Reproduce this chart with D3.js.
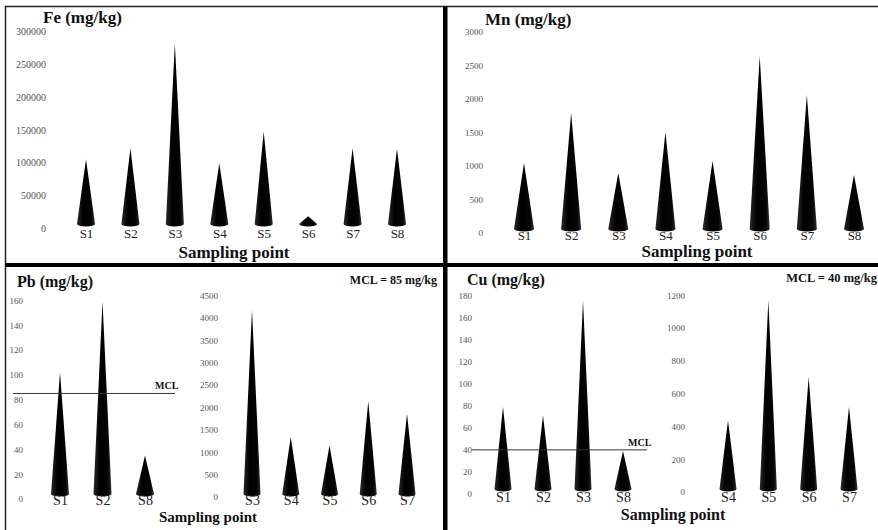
<!DOCTYPE html>
<html>
<head>
<meta charset="utf-8">
<script src="https://cdn.jsdelivr.net/npm/d3@7"></script>
<style>
  body { margin: 0; background: #fff; }
  svg text { font-family: "Liberation Serif", "DejaVu Serif", serif; }
</style>
</head>
<body>
<script>
// ---- data ----
var feSites = ["S1", "S2", "S3", "S4", "S5", "S6", "S7", "S8"];
var feValues = [105000, 122000, 282000, 99000, 147000, 18000, 122000, 121000];
var feTicks = [0, 50000, 100000, 150000, 200000, 250000, 300000];

var mnSites = ["S1", "S2", "S3", "S4", "S5", "S6", "S7", "S8"];
var mnValues = [1045, 1790, 896, 1507, 1075, 2640, 2060, 866];
var mnTicks = [0, 500, 1000, 1500, 2000, 2500, 3000];

var pbLowSites = ["S1", "S2", "S8"];
var pbLowValues = [102, 159, 35];
var pbLowTicks = [0, 20, 40, 60, 80, 100, 120, 140, 160];
var pbHighSites = ["S3", "S4", "S5", "S6", "S7"];
var pbHighValues = [4170, 1340, 1150, 2135, 1860];
var pbHighTicks = [0, 500, 1000, 1500, 2000, 2500, 3000, 3500, 4000, 4500];
var pbMcl = 85;

var cuLowSites = ["S1", "S2", "S3", "S8"];
var cuLowValues = [79, 71, 175, 39];
var cuLowTicks = [0, 20, 40, 60, 80, 100, 120, 140, 160, 180];
var cuHighSites = ["S4", "S5", "S6", "S7"];
var cuHighValues = [437, 1170, 702, 519];
var cuHighTicks = [0, 200, 400, 600, 800, 1000, 1200];
var cuMcl = 40;

var width = 878, height = 530;
var serif = "'Liberation Serif', 'DejaVu Serif', serif";

var svg = d3.select("body").append("svg")
    .attr("width", width)
    .attr("height", height)
    .style("font-family", serif);

// subtle shading on the cones
var grad = svg.append("defs").append("linearGradient")
    .attr("id", "coneFill")
    .attr("x1", "0%").attr("x2", "100%");
grad.append("stop").attr("offset", "0%").attr("stop-color", "#2a2a2a");
grad.append("stop").attr("offset", "35%").attr("stop-color", "#000");
grad.append("stop").attr("offset", "80%").attr("stop-color", "#050505");
grad.append("stop").attr("offset", "100%").attr("stop-color", "#333");

// draws one set of cones with its own y axis
function drawCones(o) {
  var g = svg.append("g");
  var y = d3.scaleLinear().domain([0, o.max]).range(o.yRange);
  var x = d3.scalePoint().domain(o.sites).range(o.xRange);

  var yAxis = d3.axisLeft(y)
      .tickValues(o.ticks)
      .tickSize(0)
      .tickPadding(0)
      .tickFormat(d3.format("d"));
  var ya = g.append("g")
      .attr("transform", "translate(" + o.axisX + ",0)")
      .call(yAxis)
      .attr("font-family", serif);
  ya.select(".domain").remove();
  ya.selectAll("text")
      .attr("fill", "#555")
      .style("font-size", o.tickSize + "px")
      .style("font-family", serif);

  var half = o.coneW / 2;
  var baseY = y(0) - o.baseOff;
  g.selectAll(".cone")
    .data(o.values)
    .enter().append("path")
      .attr("class", "cone")
      .attr("fill", "url(#coneFill)")
      .attr("d", function(d, i) {
        var cx = x(o.sites[i]);
        return "M" + (cx - half) + "," + baseY +
               "L" + cx + "," + y(d) +
               "L" + (cx + half) + "," + baseY +
               "A" + half + ",2.5 0 0 1 " + (cx - half) + "," + baseY + "Z";
      });

  var xAxis = d3.axisBottom(x).tickSize(0).tickPadding(0);
  var xa = g.append("g")
      .attr("transform", "translate(0," + o.labelTop + ")")
      .call(xAxis)
      .attr("font-family", serif);
  xa.select(".domain").remove();
  xa.selectAll("text")
      .attr("fill", "#222")
      .style("font-size", o.labelSize + "px")
      .style("font-family", serif);

  return y;
}

function label(txt, x, y, size, anchor, bold) {
  svg.append("text")
      .attr("x", x).attr("y", y)
      .attr("text-anchor", anchor || "start")
      .attr("font-weight", bold === false ? "normal" : "bold")
      .attr("font-size", size)
      .attr("fill", "#111")
      .style("font-family", serif)
      .text(txt);
}

/* ---------- Fe ---------- */
drawCones({ sites: feSites, values: feValues, ticks: feTicks, max: 300000,
  yRange: [228, 31.7], xRange: [86, 397], axisX: 46, baseOff: 4,
  coneW: 18, tickSize: 10, labelTop: 229, labelSize: 13 });
label("Fe (mg/kg)", 43, 23, 17);
label("Sampling point", 234, 258, 17, "middle");

/* ---------- Mn ---------- */
drawCones({ sites: mnSites, values: mnValues, ticks: mnTicks, max: 3000,
  yRange: [233, 32], xRange: [524, 854], axisX: 483, baseOff: 4,
  coneW: 20, tickSize: 9, labelTop: 231, labelSize: 13 });
label("Mn (mg/kg)", 485, 25, 17);
label("Sampling point", 697, 257, 17, "middle");

/* ---------- Pb ---------- */
var yPb = drawCones({ sites: pbLowSites, values: pbLowValues, ticks: pbLowTicks, max: 160,
  yRange: [499, 300.3], xRange: [60, 145], axisX: 23, baseOff: 5,
  coneW: 18, tickSize: 9, labelTop: 495, labelSize: 14 });
drawCones({ sites: pbHighSites, values: pbHighValues, ticks: pbHighTicks, max: 4500,
  yRange: [497, 295.3], xRange: [252, 407], axisX: 218, baseOff: 3,
  coneW: 17, tickSize: 9, labelTop: 495, labelSize: 14 });
svg.append("line")
    .attr("x1", 13).attr("x2", 175)
    .attr("y1", yPb(pbMcl)).attr("y2", yPb(pbMcl))
    .attr("stroke", "#333").attr("stroke-width", 1);
label("MCL", 155, yPb(pbMcl) - 4, 10);
label("Pb (mg/kg)", 17, 287, 16);
label("MCL = " + pbMcl + " mg/kg", 437, 284, 12, "end");
label("Sampling point", 208, 522, 15, "middle");

/* ---------- Cu ---------- */
var yCu = drawCones({ sites: cuLowSites, values: cuLowValues, ticks: cuLowTicks, max: 180,
  yRange: [494, 295.3], xRange: [503, 623], axisX: 472, baseOff: 5,
  coneW: 17, tickSize: 9, labelTop: 492, labelSize: 14 });
drawCones({ sites: cuHighSites, values: cuHighValues, ticks: cuHighTicks, max: 1200,
  yRange: [492, 295.3], xRange: [728, 849], axisX: 685, baseOff: 3,
  coneW: 17, tickSize: 9, labelTop: 492, labelSize: 14 });
svg.append("line")
    .attr("x1", 472).attr("x2", 647)
    .attr("y1", yCu(cuMcl)).attr("y2", yCu(cuMcl))
    .attr("stroke", "#333").attr("stroke-width", 1);
label("MCL", 628, yCu(cuMcl) - 4, 10);
label("Cu (mg/kg)", 467, 285, 16);
label("MCL = " + cuMcl + " mg/kg", 877, 282, 12.5, "end");
label("Sampling point", 673, 520, 16, "middle");

/* ---------- frame ---------- */
svg.append("line").attr("x1", 5).attr("x2", width).attr("y1", 6.5).attr("y2", 6.5)
    .attr("stroke", "#222").attr("stroke-width", 1.5);
svg.append("line").attr("x1", 5.5).attr("x2", 5.5).attr("y1", 6).attr("y2", height)
    .attr("stroke", "#222").attr("stroke-width", 1.5);
svg.append("rect").attr("x", 5).attr("y", 263).attr("width", width - 5).attr("height", 4)
    .attr("fill", "#000");
svg.append("rect").attr("x", 443).attr("y", 6).attr("width", 4.5).attr("height", height - 6)
    .attr("fill", "#000");
</script>
</body>
</html>
